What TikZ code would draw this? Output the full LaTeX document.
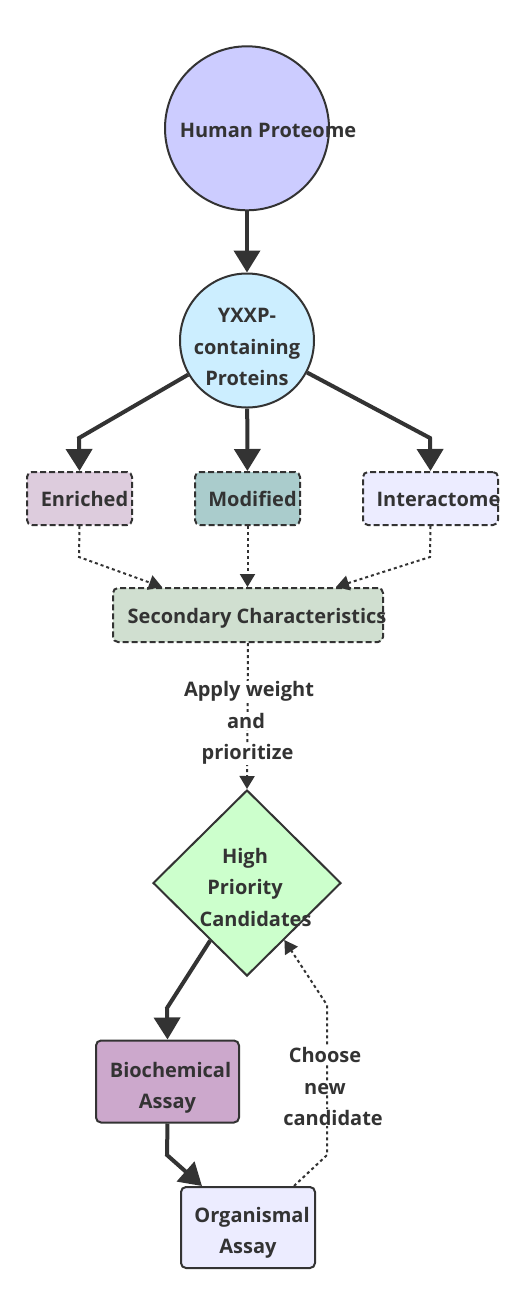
\documentclass[tikz,border=0pt]{standalone}
\usepackage{fontspec}
\setmainfont{Open Sans}
\usetikzlibrary{arrows.meta,shapes.geometric}
\definecolor{ink}{HTML}{333333}
\definecolor{cHP}{HTML}{CCCCFF}
\definecolor{cYX}{HTML}{CCEEFF}
\definecolor{cEN}{HTML}{DDCCDD}
\definecolor{cMO}{HTML}{AACCCC}
\definecolor{cIN}{HTML}{ECECFF}
\definecolor{cSC}{HTML}{D0DFD0}
\definecolor{cHC}{HTML}{CCFFCC}
\definecolor{cBC}{HTML}{CCA8CC}
\definecolor{cOG}{HTML}{ECECFF}
% #1 raise of first baseline, #2 lines
\newcommand{\mlines}[2]{\raisebox{#1}[0pt][0pt]{\makebox[0pt]{\begin{tabular}[t]{@{}c@{}}#2\end{tabular}}}}
% #1 raise of baseline, #2 extra left space, #3 text
\newcommand{\oneline}[3]{\raisebox{#1}[0pt][0pt]{\makebox[0pt]{\hspace*{#2}#3}}}
\tikzset{
  txt/.style={text=ink, font=\fontsize{20}{31.5}\selectfont\bfseries},
  circ/.style={circle, draw=ink, line width=2pt, inner sep=0pt, txt},
  dbox/.style={rectangle, rounded corners=5pt, draw=ink, line width=2pt, dash pattern=on 6pt off 3pt, inner sep=0pt, minimum height=53pt, txt},
  sbox/.style={rectangle, rounded corners=5pt, draw=ink, line width=2pt, inner sep=0pt, txt},
  thickarrow/.style={draw=ink, line width=4pt, -{Triangle[length=22pt,width=26pt]}},
  dotarrow/.style={draw=ink, line width=2pt, dash pattern=on 3pt off 3pt, -{Triangle[length=13pt,width=15pt]}},
  elabel/.style={txt, fill=white, inner sep=1pt, anchor=base}
}
\begin{document}
\begin{tikzpicture}[x=1pt,y=-1pt]
\useasboundingbox[fill=white] (0,0) rectangle (522,1310);
% nodes
\node[circ, fill=cHP, minimum size=164pt] (hp) at (247,128.3) {\oneline{-9pt}{42pt}{Human Proteome}};
\node[circ, fill=cYX, minimum size=134pt] (yx) at (247,340.5) {\mlines{17.8pt}{YXXP-\\containing\\Proteins}};
\node[dbox, fill=cEN, minimum width=105pt] (en) at (79.5,498.5) {\oneline{-8pt}{10pt}{Enriched}};
\node[dbox, fill=cMO, minimum width=105pt] (mo) at (247.5,498.5) {\oneline{-8pt}{10pt}{Modified}};
\node[dbox, fill=cIN, minimum width=135pt] (in) at (430.5,498.5) {\oneline{-8pt}{16pt}{Interactome}};
\node[dbox, fill=cSC, minimum width=270pt, minimum height=54pt] (sc) at (248,615) {\oneline{-8.3pt}{18pt}{Secondary Characteristics}};
\node[diamond, draw=ink, line width=2pt, fill=cHC, inner sep=0pt, minimum width=188pt, minimum height=186pt, txt] (hc) at (247,883) {\mlines{19.7pt}{\hspace*{-4pt}High\\\hspace*{-4pt}Priority\\\hspace*{17pt}Candidates}};
\node[sbox, fill=cBC, minimum width=143pt, minimum height=82pt] (bc) at (167.5,1081.5) {\mlines{4.2pt}{\hspace*{6pt}Biochemical\\Assay}};
\node[sbox, fill=cOG, minimum width=134pt, minimum height=81pt] (og) at (248,1227.5) {\mlines{5.2pt}{\hspace*{8pt}Organismal\\Assay}};
% bend points
\coordinate (bL) at (79,438);
\coordinate (bR) at (430,438);
\coordinate (dL) at (79,557);
\coordinate (dR) at (430,557);
\coordinate (b1) at (167,1008);
\coordinate (b2) at (167,1155);
\coordinate (r1) at (327,1155);
\coordinate (r2) at (327,1005);
% thick edges
\draw[thickarrow] (hp) -- (yx);
\draw[thickarrow] (yx) -- (bL) -- (en.north);
\draw[thickarrow] (yx) -- (mo);
\draw[thickarrow] (yx) -- (bR) -- (in.north);
% dotted edges
\draw[dotarrow] (en.south) -- (dL) -- ([xshift=50pt]sc.north west);
\draw[dotarrow] (mo.south) -- ([xshift=-0.5pt]sc.north);
\draw[dotarrow] (in.south) -- (dR) -- ([xshift=-48pt]sc.north east);
\draw[dotarrow] (sc.south) -- (hc.north);
% lower edges
\draw[thickarrow] (hc) -- (b1) -- (bc.north);
\draw[thickarrow] (bc.south) -- (b2) -- ([xshift=22pt]og.north west);
\draw[dotarrow] ([xshift=-22pt]og.north east) -- (r1) -- (r2) -- (hc);
% edge labels
\node[elabel] (la1) at (249,696.7) {Apply weight};
\node[elabel] (la2) at (246,728.3) {and};
\node[elabel] (la3) at (247.5,759.3) {prioritize};
\node[elabel] (lb1) at (325,1062.7) {Choose};
\node[elabel] (lb2) at (325,1094) {new};
\node[elabel] (lb3) at (333,1125) {candidate};
\end{tikzpicture}
\end{document}
